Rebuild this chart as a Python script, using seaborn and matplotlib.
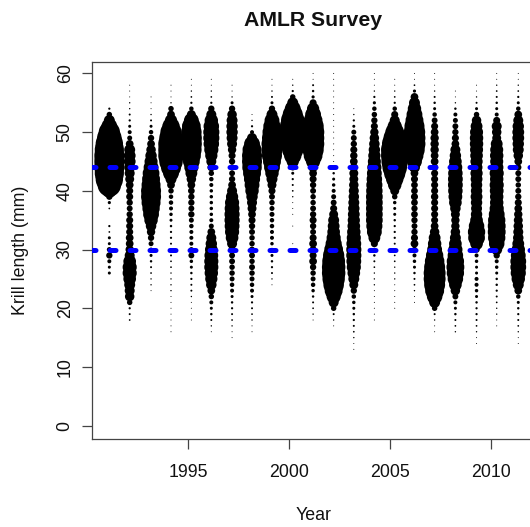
import numpy as np
import pandas as pd
import matplotlib
matplotlib.use("Agg")
import matplotlib.pyplot as plt
import seaborn as sns

# Krill length bins (mm), top to bottom
lengths = list(range(60, 11, -1))

# Survey time (decimal year) for each annual survey
survey_time = [1991.08, 1992.09, 1993.15, 1994.14, 1995.15, 1996.14, 1997.17,
               1998.16, 1999.15, 2000.18, 2001.19, 2002.21, 2003.21, 2004.23,
               2005.24, 2006.22, 2007.22, 2008.25, 2009.30, 2010.30, 2011.37]

# Length-frequency (%) per survey, lengths 60 -> 12 mm
f1991 = [0, 0, 0, 0, 0, 0, 0.05, 0.3, 1.2, 2.5,
         4.5, 6, 7.5, 8.5, 9, 9, 9, 8.5, 7.5, 5.5,
         2, 0.4, 0.1, 0.03, 0, 0, 0.05, 0.03, 0.09, 0.09,
         0.25, 0.4, 0.16, 0.09, 0.09, 0, 0, 0, 0, 0,
         0, 0, 0, 0, 0, 0, 0, 0, 0]
f1992 = [0, 0, 0.01, 0.01, 0.01, 0.02, 0.02, 0.04, 0.05, 0.09,
         0.16, 0.25, 0.6, 1.2, 1.4, 1.4, 1.2, 1.0, 0.8, 0.6,
         0.5, 0.5, 0.4, 0.35, 0.4, 0.5, 0.5, 0.5, 0.6, 0.6,
         0.7, 1.0, 1.6, 2.0, 2.0, 1.6, 1.2, 1.0, 0.9, 0.3,
         0.05, 0.04, 0.03, 0, 0, 0, 0, 0, 0]
f1993 = [0, 0, 0, 0, 0.01, 0.01, 0.01, 0.02, 0.04, 0.09,
         0.2, 0.4, 0.6, 0.9, 1.3, 1.7, 2.2, 2.8, 3.2, 3.6,
         4.0, 4.0, 3.6, 3.0, 2.5, 1.8, 1.1, 0.7, 0.4, 0.25,
         0.16, 0.09, 0.06, 0.04, 0.03, 0.02, 0.02, 0.01, 0, 0,
         0, 0, 0, 0, 0, 0, 0, 0, 0]
f1994 = [0, 0, 0.01, 0.01, 0.01, 0.02, 0.3, 0.6, 1.5, 3,
         4.5, 5.5, 6.5, 6.5, 6.5, 5.5, 4, 2.5, 1.2, 0.6,
         0.3, 0.2, 0.2, 0.16, 0.12, 0.09, 0.06, 0.05, 0.05, 0.04,
         0.04, 0.04, 0.03, 0.03, 0.02, 0.02, 0.02, 0.02, 0.01, 0.01,
         0.01, 0.01, 0.01, 0.01, 0.01, 0, 0, 0, 0]
f1995 = [0, 0.01, 0.01, 0.02, 0.03, 0.05, 0.2, 0.8, 2.2, 3.5,
         4.2, 4.4, 4.4, 4.2, 3.6, 2.8, 2, 1.4, 0.9, 0.6,
         0.45, 0.4, 0.4, 0.35, 0.4, 0.25, 0.2, 0.16, 0.16, 0.16,
         0.25, 0.35, 0.12, 0.09, 0.06, 0.05, 0.04, 0.04, 0.02, 0.01,
         0.01, 0.01, 0.01, 0, 0, 0, 0, 0, 0]
f1996 = [0, 0.01, 0.01, 0.02, 0.03, 0.05, 0.4, 1.0, 1.8, 2.4,
         2.6, 2.6, 2.4, 2.0, 1.5, 1.0, 0.6, 0.3, 0.2, 0.16,
         0.12, 0.12, 0.12, 0.12, 0.12, 0.16, 0.25, 0.6, 1.0, 1.3,
         1.6, 1.9, 2.0, 2.0, 1.8, 1.5, 1.1, 0.6, 0.3, 0.16,
         0.09, 0.06, 0.04, 0.02, 0.01, 0, 0, 0, 0]
f1997 = [0, 0, 0.01, 0.01, 0.02, 0.09, 0.4, 0.9, 1.2, 1.3,
         1.3, 1.2, 1.0, 0.7, 0.5, 0.4, 0.35, 0.35, 0.4, 0.6,
         1.0, 1.5, 2.0, 2.2, 2.3, 2.3, 2.2, 2.0, 1.6, 1.0,
         0.5, 0.35, 0.35, 0.3, 0.3, 0.25, 0.2, 0.16, 0.09, 0.06,
         0.05, 0.04, 0.03, 0.02, 0.01, 0.01, 0, 0, 0]
f1998 = [0, 0, 0, 0, 0, 0, 0, 0.01, 0.02, 0.05,
         0.16, 1.0, 2.5, 3.6, 4.0, 4.0, 3.8, 3.2, 2.6, 2.2,
         1.8, 1.3, 1.0, 0.8, 0.6, 0.5, 0.4, 0.35, 0.3, 0.3,
         0.35, 0.35, 0.3, 0.35, 0.3, 0.25, 0.2, 0.16, 0.09, 0.05,
         0.04, 0.03, 0.02, 0.01, 0.01, 0, 0, 0, 0]
f1999 = [0, 0.01, 0.01, 0.02, 0.04, 0.09, 0.4, 1.2, 2.2, 3.0,
         3.6, 4.0, 4.4, 4.4, 4.0, 3.2, 2.5, 1.8, 1.2, 0.8,
         0.5, 0.35, 0.3, 0.25, 0.25, 0.2, 0.2, 0.16, 0.16, 0.12,
         0.12, 0.09, 0.06, 0.05, 0.04, 0.02, 0.01, 0, 0, 0,
         0, 0, 0, 0, 0, 0, 0, 0, 0]
f2000 = [0, 0.01, 0.02, 0.05, 0.3, 1.2, 2.5, 4.0, 5.5, 6.5,
         7.0, 7.0, 6.0, 4.5, 3.0, 1.5, 0.4, 0.09, 0.05, 0.04,
         0.03, 0.02, 0.01, 0.01, 0.01, 0, 0.01, 0, 0, 0.01,
         0.01, 0, 0, 0, 0, 0, 0, 0, 0, 0,
         0, 0, 0, 0, 0, 0, 0, 0, 0]
f2001 = [0.01, 0.01, 0.04, 0.06, 0.1, 0.5, 1.5, 2.5, 3.5, 4.5,
         5.0, 5.0, 5.0, 4.5, 3.5, 2.0, 0.9, 0.6, 0.5, 0.4,
         0.35, 0.3, 0.3, 0.35, 0.4, 0.5, 0.4, 0.35, 0.5, 0.6,
         0.5, 0.5, 0.6, 0.4, 0.3, 0.25, 0.2, 0.12, 0.06, 0.04,
         0.03, 0.02, 0.01, 0, 0, 0, 0, 0, 0]
f2002 = [0.01, 0.01, 0.01, 0.01, 0.01, 0.01, 0.01, 0.01, 0.01, 0.01,
         0.01, 0.01, 0.01, 0.01, 0.01, 0.01, 0.03, 0.06, 0.09, 0.12,
         0.16, 0.25, 0.35, 0.5, 0.8, 1.2, 1.4, 1.6, 2.0, 2.6,
         3.5, 4.5, 5.2, 5.5, 5.5, 5.0, 4.2, 3.2, 2.0, 1.0,
         0.3, 0.04, 0.02, 0.01, 0, 0, 0, 0, 0]
f2003 = [0, 0, 0, 0, 0, 0, 0.01, 0.02, 0.05, 0.09,
         0.25, 0.35, 0.4, 0.5, 0.55, 0.6, 0.7, 0.8, 0.8, 0.9,
         1.0, 1.1, 1.2, 1.3, 1.4, 1.5, 1.6, 1.8, 2.0, 2.2,
         2.3, 2.3, 2.2, 2.0, 1.6, 1.2, 0.8, 0.4, 0.2, 0.12,
         0.09, 0.06, 0.05, 0.04, 0.03, 0.02, 0.01, 0.01, 0]
f2004 = [0.01, 0.01, 0.01, 0.02, 0.05, 0.1, 0.2, 0.3, 0.4, 0.5,
         0.7, 0.9, 1.1, 1.3, 1.5, 1.7, 2.0, 2.2, 2.4, 2.6,
         2.7, 2.8, 2.8, 2.8, 2.8, 2.8, 2.6, 2.2, 1.4, 0.5,
         0.12, 0.06, 0.04, 0.03, 0.02, 0.02, 0.02, 0.01, 0.01, 0.01,
         0.01, 0.01, 0.01, 0, 0, 0, 0, 0, 0]
f2005 = [0, 0.01, 0.01, 0.02, 0.03, 0.05, 0.2, 0.5, 1.0, 2.0,
         3.5, 5.0, 6.5, 7.5, 7.5, 7.0, 6.0, 4.5, 3.0, 1.8,
         0.8, 0.3, 0.12, 0.09, 0.09, 0.06, 0.05, 0.05, 0.05, 0.04,
         0.04, 0.03, 0.03, 0.02, 0.02, 0.02, 0.01, 0.01, 0.01, 0.01,
         0.01, 0, 0, 0, 0, 0, 0, 0, 0]
f2006 = [0.01, 0.01, 0.03, 0.1, 0.6, 1.2, 1.8, 2.5, 3.2, 4.0,
         4.6, 4.8, 4.8, 4.2, 3.2, 2.2, 1.2, 0.6, 0.5, 0.45,
         0.45, 0.5, 0.45, 0.4, 0.45, 0.4, 0.35, 0.4, 0.5, 0.6,
         0.3, 0.16, 0.12, 0.09, 0.06, 0.04, 0.03, 0.02, 0.01, 0.01,
         0, 0, 0, 0, 0, 0, 0, 0, 0]
f2007 = [0.01, 0.01, 0.01, 0.02, 0.04, 0.06, 0.09, 0.2, 0.35, 0.5,
         0.6, 0.7, 0.7, 0.7, 0.6, 0.6, 0.5, 0.5, 0.5, 0.5,
         0.5, 0.55, 0.5, 0.5, 0.5, 0.5, 0.6, 0.9, 1.4, 1.8,
         2.2, 3.0, 3.8, 4.4, 4.8, 4.8, 4.4, 3.6, 2.4, 1.2,
         0.3, 0.04, 0.02, 0.01, 0.01, 0, 0, 0, 0]
f2008 = [0, 0, 0, 0.01, 0.01, 0.02, 0.06, 0.16, 0.25, 0.35,
         0.4, 0.5, 0.6, 1.0, 1.3, 1.6, 1.9, 2.1, 2.2, 2.2,
         2.1, 1.9, 1.6, 1.1, 0.8, 0.7, 0.7, 0.9, 1.2, 1.6,
         2.0, 2.4, 3.0, 3.2, 3.0, 2.4, 1.6, 0.9, 0.35, 0.16,
         0.09, 0.06, 0.04, 0.03, 0.02, 0, 0, 0, 0]
f2009 = [0, 0, 0.01, 0.01, 0.02, 0.04, 0.09, 0.3, 0.9, 1.4,
         1.7, 1.8, 1.8, 1.7, 1.6, 1.5, 1.4, 1.5, 1.4, 1.3,
         1.3, 1.4, 1.3, 1.2, 1.3, 1.6, 2.4, 3.0, 2.8, 1.6,
         0.4, 0.16, 0.12, 0.09, 0.09, 0.16, 0.16, 0.12, 0.09, 0.06,
         0.05, 0.05, 0.04, 0.03, 0.02, 0.01, 0.01, 0, 0]
f2010 = [0.01, 0.01, 0.02, 0.03, 0.04, 0.06, 0.09, 0.16, 0.5, 1.0,
         0.9, 0.8, 1.4, 1.7, 1.8, 1.7, 1.8, 2.0, 1.8, 2.0,
         1.9, 1.8, 1.8, 2.0, 2.5, 3.0, 3.2, 3.2, 3.0, 2.4,
         1.2, 0.4, 0.16, 0.12, 0.09, 0.06, 0.06, 0.05, 0.04, 0.03,
         0.02, 0.02, 0.01, 0.01, 0, 0, 0, 0, 0]
f2011 = [0.01, 0.01, 0.02, 0.03, 0.05, 0.09, 0.2, 0.6, 1.0, 1.3,
         1.4, 1.4, 1.3, 1.2, 0.9, 0.6, 0.4, 0.35, 0.35, 0.3,
         0.35, 0.4, 0.5, 0.6, 0.7, 0.8, 0.9, 1.0, 1.1, 1.4,
         1.8, 2.2, 2.5, 2.5, 2.3, 1.8, 1.2, 0.6, 0.2, 0.09,
         0.06, 0.05, 0.04, 0.03, 0.02, 0.01, 0.01, 0, 0]

freq_by_survey = [f1991, f1992, f1993, f1994, f1995, f1996, f1997, f1998,
                  f1999, f2000, f2001, f2002, f2003, f2004, f2005, f2006,
                  f2007, f2008, f2009, f2010, f2011]

reference_lengths = [44, 30]
x_ticks = [1995, 2000, 2005, 2010]
y_ticks = [0, 10, 20, 30, 40, 50, 60]

rows = []
for t, fr in zip(survey_time, freq_by_survey):
    for L, f in zip(lengths, fr):
        if f > 0:
            rows.append((t, L, f))
df = pd.DataFrame(rows, columns=["time", "length", "freq"])

sns.set_style("white")
plt.rcParams["font.family"] = ["Liberation Sans", "DejaVu Sans"]

W, H = 530, 527
fig = plt.figure(figsize=(W / 100, H / 100), dpi=100)
ax_l, ax_r, ax_t, ax_b = 92, 535, 61.7, 439
ax = fig.add_axes([ax_l / W, 1 - ax_b / H, (ax_r - ax_l) / W, (ax_b - ax_t) / H])

sns.scatterplot(data=df, x="time", y="length", size="freq",
                sizes=(0, 518.4), size_norm=(0, 10), color="black",
                linewidth=0, edgecolor="none", legend=False, ax=ax, zorder=2)

for yv in reference_lengths:
    ax.axhline(yv, color="#0000FF", lw=3.6, ls=(0.5, (1.2, 2.8)),
               dash_capstyle="round", zorder=3)

ax.set_xlim(1990.22, 2012.2)
ax.set_ylim(-2.27, 62.0)
ax.set_xticks(x_ticks)
ax.set_yticks(y_ticks)
ax.set_xticklabels([str(v) for v in x_ticks], fontsize=12.8)
ax.set_yticklabels([str(v) for v in y_ticks], fontsize=12.8, rotation=90,
                   va="center")
ax.tick_params(axis="both", direction="out", length=7.2, width=0.9,
               color="#444444", labelcolor="#111111", bottom=True, left=True)
ax.tick_params(axis="x", pad=11)
ax.tick_params(axis="y", pad=6)
for s in ax.spines.values():
    s.set_color("#444444")
    s.set_linewidth(0.9)
ax.set_xlabel("")
ax.set_ylabel("")

fig.text(313.5 / W, 1 - 515 / H, "Year", ha="center", va="center",
         fontsize=12.8, color="#111111")
fig.text(21 / W, 1 - 250 / H, "Krill length (mm)", ha="center", va="center",
         rotation=90, fontsize=12.8, color="#111111")
fig.text(313.5 / W, 1 - 20 / H, "AMLR Survey", ha="center", va="center",
         fontsize=15.3, fontweight="bold", color="#111111")

fig.savefig("out.png", dpi=100)
